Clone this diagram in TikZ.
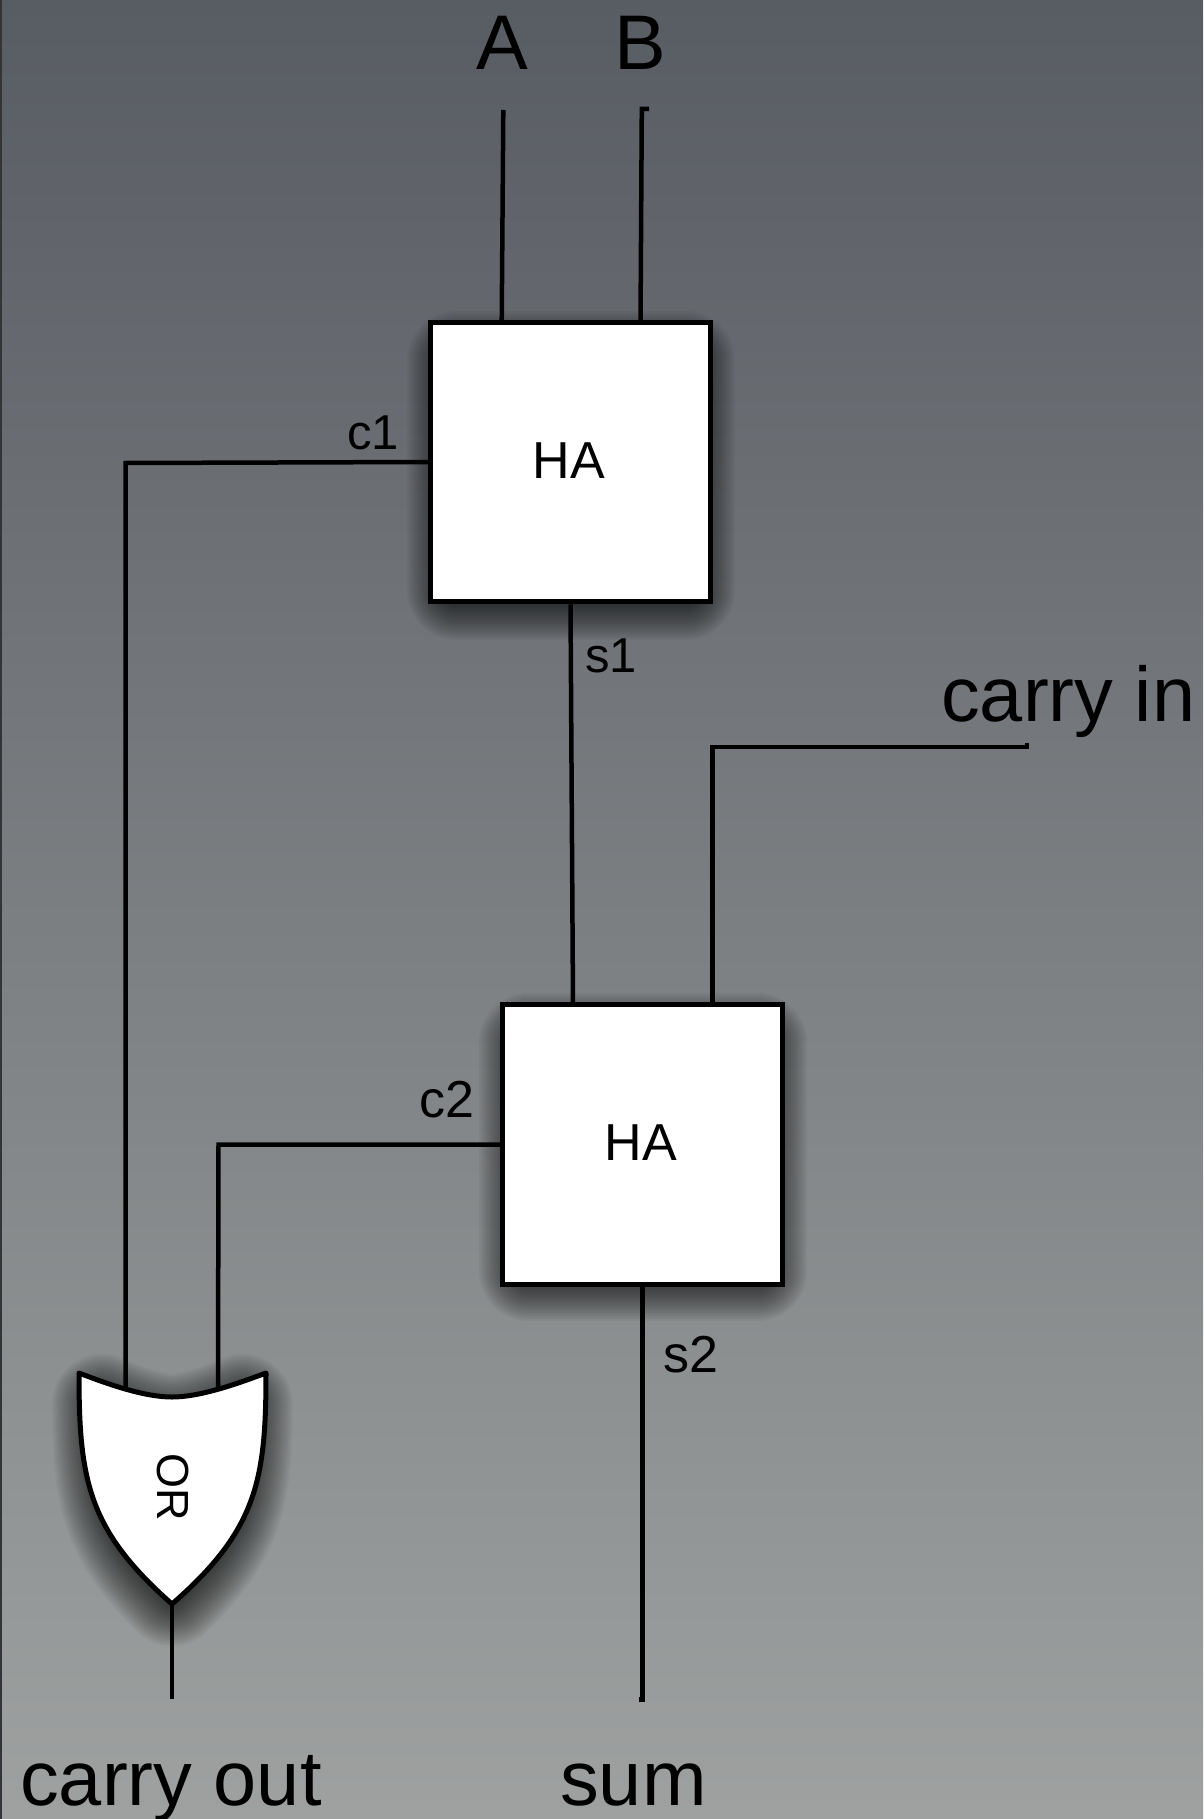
\documentclass[tikz,border=0pt]{standalone}
\usepackage{fontspec}
\setmainfont{Liberation Sans}
\definecolor{bgtop}{RGB}{88,92,99}
\definecolor{bgbottom}{RGB}{158,161,160}
\definecolor{edgeline}{RGB}{50,52,55}
\newcommand{\softshadow}[2][]{%
  \foreach \rr in {50,48,...,0} {
    \path[fill=black,draw=black,opacity=0.04,line join=round,line width=2*\rr pt,yshift=-13pt,#1] #2;
  }%
}
\newcommand{\gateoutline}{(79,1373) .. controls (110,1385) and (145,1397) .. (172,1397)
  .. controls (199,1397) and (234,1385) .. (266,1373)
  .. controls (266,1480) and (257,1530) .. (172,1604)
  .. controls (88,1530) and (79,1480) .. (79,1373) -- cycle}
\tikzset{
  x=1pt,y=-1pt,
  wire/.style={draw=black,line width=4.5pt,line cap=butt,line join=miter},
  hablock/.style={draw=black,fill=white,line width=5pt,rectangle,inner sep=0pt,minimum width=279.5pt,minimum height=279.5pt},
  lbl/.style={inner sep=0pt,anchor=base west,text=black},
  biglbl/.style={lbl,font=\fontsize{77.5}{80}\selectfont},
  smalllbl/.style={lbl,font=\fontsize{49}{50}\selectfont},
  midlbl/.style={lbl,font=\fontsize{52}{54}\selectfont},
  halbl/.style={inner sep=0pt,anchor=base,text=black,font=\fontsize{52}{54}\selectfont},
}
\begin{document}
\begin{tikzpicture}
\useasboundingbox (0,0) rectangle (1203,1819);
\shade[top color=bgtop,bottom color=bgbottom] (0,0) rectangle (1203,1819);
\fill[edgeline] (0,0) rectangle (1.5,1819);
% shadows (outline inset; blur grows outward from it)
\softshadow{(457,348) rectangle (685,577)}
\softshadow{(529,1030) rectangle (757,1258)}
\softshadow[shift={(172,1480)},xscale=0.75,yscale=0.83,shift={(-172,-1480)}]{\gateoutline}
% blocks
\node[hablock] (ha1) at (570.5,462) {};
\node[hablock] (ha2) at (642.5,1144.5) {};
\draw[black,fill=white,line width=5pt,line join=round] \gateoutline;
\node[inner sep=0pt,rotate=-90,font=\fontsize{45}{48}\selectfont] (orgate) at (173,1487) {OR};
\coordinate (gatein1) at (125.5,1388);
\coordinate (gatein2) at (218,1388);
\coordinate (gateout) at (172,1604);
% free ends
\coordinate (aend) at (503.3,110);
\coordinate (bend) at (649,109);
\coordinate (bcorner) at (641.8,109);
\coordinate (cinend) at (1027,743);
\coordinate (cincorner) at (1027,747);
\coordinate (c1corner) at (125.5,463);
\coordinate (c2corner) at (218.5,1144.5);
\coordinate (outend) at (172,1699);
\coordinate (sumcorner) at (642.5,1699.5);
\coordinate (sumend) at (638.5,1699.5);
% connectors
\draw[wire] (aend) -- (501.7,323);
\draw[wire] (bend) -- (bcorner) -- (640.5,323);
\draw[wire] (ha1.south) -- (573,1005);
\draw[wire] (cinend) -- (cincorner) -- (712.5,747) -- (712.5,1005);
\draw[wire] (ha1.west) -- (c1corner) -- (gatein1);
\draw[wire] (ha2.west) -- (c2corner) -- (gatein2);
\draw[wire] (gateout) -- (outend);
\draw[wire] (ha2.south) -- (sumcorner) -- (sumend);
% labels
\node[biglbl,anchor=base] (la) at (502,70) {A};
\node[biglbl,anchor=base] (lb) at (640.5,70) {B};
\node[biglbl] (lcin) at (941,721) {carry in};
\node[biglbl] (lcout) at (20,1805) {carry out};
\node[biglbl] (lsum) at (560,1805) {sum};
\node[smalllbl] (c1) at (347,449) {c1};
\node[midlbl] (c2) at (419,1117) {c2};
\node[smalllbl] (s1) at (585,672) {s1};
\node[midlbl] (s2) at (663,1372) {s2};
\node[halbl] (t1) at (569,478) {HA};
\node[halbl] (t2) at (641,1160) {HA};
\end{tikzpicture}
\end{document}
